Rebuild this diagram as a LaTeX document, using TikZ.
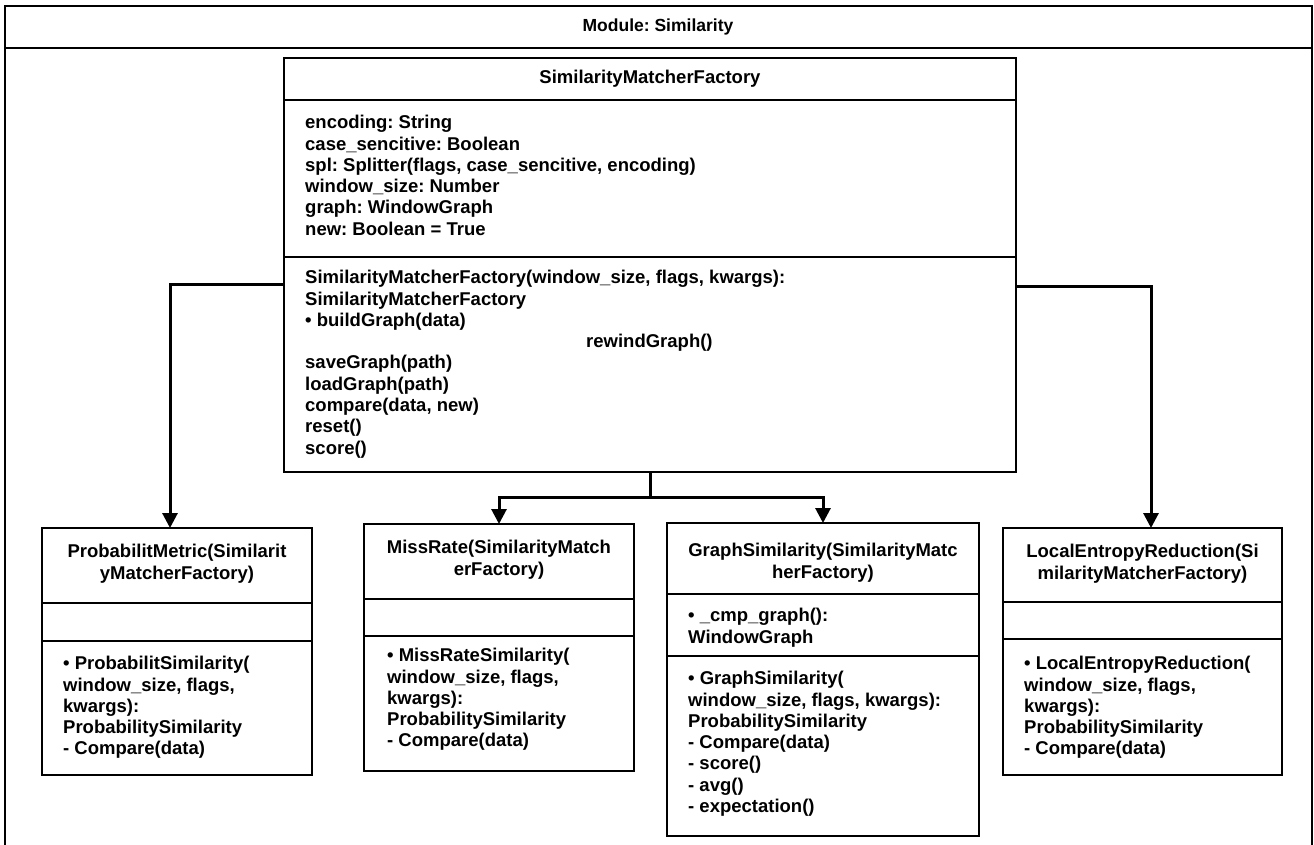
\documentclass[tikz,border=0pt]{standalone}
\usepackage{fontspec}
\setmainfont{Liberation Sans}
\usetikzlibrary{arrows.meta,calc}
\frenchspacing
\begin{document}
\begin{tikzpicture}[x=1pt,y=-1pt,
  box/.style={draw=black,line width=2pt,inner sep=0pt,outer sep=0pt,anchor=north west},
  sepline/.style={draw=black,line width=2pt},
  frameline/.style={draw=black,line width=2pt},
  txt/.style={anchor=north west,inner sep=0pt,align=left,font=\fontsize{18.5}{21.3}\selectfont\bfseries\frenchspacing},
  ttl/.style={anchor=north,inner sep=0pt,align=center,font=\fontsize{18.5}{21.3}\selectfont\bfseries\frenchspacing},
  conn/.style={draw=black,line width=3pt,-{Triangle[width=15pt,length=15pt]}},
  plainconn/.style={draw=black,line width=3pt}
]
\useasboundingbox (0,0) rectangle (1314,845);
% module frame
\draw[frameline] (5,880) -- (5,6) -- (1312,6) -- (1312,880);
\draw[frameline] (5,48) -- (1312,48);
\node[ttl,anchor=center,font=\fontsize{17.5}{20}\selectfont\bfseries\frenchspacing] (modtitle) at (658,27) {Module: Similarity};

% main class
\node[box,minimum width=732pt,minimum height=414pt] (main) at (284,58) {};
\draw[sepline] ($(main.north west)+(0,42)$) -- ($(main.north east)+(0,42)$);
\draw[sepline] ($(main.north west)+(0,199)$) -- ($(main.north east)+(0,199)$);
\node[ttl,anchor=center] (mainname) at ($(main.north)+(0,21)$) {SimilarityMatcherFactory};
\node[txt] (mainattr) at (305,113.6) {\strut encoding: String\\
\strut case\_sencitive: Boolean\\
\strut spl: Splitter(flags, case\_sencitive, encoding)\\
\strut window\_size: Number\\
\strut graph: WindowGraph\\
\strut new: Boolean = True};
\node[txt] (mainmeth) at (305,268.6) {\strut SimilarityMatcherFactory(window\_size, flags, kwargs):\\
\strut SimilarityMatcherFactory\\
\strut • buildGraph(data)\\
\strut\hspace*{281pt}rewindGraph()\\
\strut saveGraph(path)\\
\strut loadGraph(path)\\
\strut compare(data, new)\\
\strut reset()\\
\strut score()};

% ProbabilitMetric
\node[box,minimum width=270pt,minimum height=247pt] (pm) at (42,528) {};
\draw[sepline] ($(pm.north west)+(0,75)$) -- ($(pm.north east)+(0,75)$);
\draw[sepline] ($(pm.north west)+(0,113)$) -- ($(pm.north east)+(0,113)$);
\node[ttl] (pmname) at (177,542.6) {\strut ProbabilitMetric(Similarit\\\strut yMatcherFactory)};
\node[txt] (pmmeth) at (63,654.6) {\strut • ProbabilitSimilarity(\\
\strut window\_size, flags,\\
\strut kwargs):\\
\strut ProbabilitySimilarity\\
\strut - Compare(data)};

% MissRate
\node[box,minimum width=270pt,minimum height=247pt] (mr) at (364,524) {};
\draw[sepline] ($(mr.north west)+(0,75)$) -- ($(mr.north east)+(0,75)$);
\draw[sepline] ($(mr.north west)+(0,112)$) -- ($(mr.north east)+(0,112)$);
\node[ttl] (mrname) at (499,538.6) {\strut MissRate(SimilarityMatch\\\strut erFactory)};
\node[txt] (mrmeth) at (387,646.6) {\strut • MissRateSimilarity(\\
\strut window\_size, flags,\\
\strut kwargs):\\
\strut ProbabilitySimilarity\\
\strut - Compare(data)};

% GraphSimilarity
\node[box,minimum width=312pt,minimum height=313pt] (gs) at (667,523) {};
\draw[sepline] ($(gs.north west)+(0,71)$) -- ($(gs.north east)+(0,71)$);
\draw[sepline] ($(gs.north west)+(0,133)$) -- ($(gs.north east)+(0,133)$);
\node[ttl] (gsname) at (823,541.6) {\strut GraphSimilarity(SimilarityMatc\\\strut herFactory)};
\node[txt] (gsattr) at (688,606.6) {\strut • \_cmp\_graph():\\
\strut WindowGraph};
\node[txt] (gsmeth) at (688,669.6) {\strut • GraphSimilarity(\\
\strut window\_size, flags, kwargs):\\
\strut ProbabilitySimilarity\\
\strut - Compare(data)\\
\strut - score()\\
\strut - avg()\\
\strut - expectation()};

% LocalEntropyReduction
\node[box,minimum width=279pt,minimum height=247pt] (ler) at (1003,528) {};
\draw[sepline] ($(ler.north west)+(0,74)$) -- ($(ler.north east)+(0,74)$);
\draw[sepline] ($(ler.north west)+(0,111)$) -- ($(ler.north east)+(0,111)$);
\node[ttl] (lername) at (1142.5,542.6) {\strut LocalEntropyReduction(Si\\\strut milarityMatcherFactory)};
\node[txt] (lermeth) at (1024,654.6) {\strut • LocalEntropyReduction(\\
\strut window\_size, flags,\\
\strut kwargs):\\
\strut ProbabilitySimilarity\\
\strut - Compare(data)};

% connectors
\draw[conn] ($(main.north west)+(0,226)$) -| ($(pm.north)+(-7,0)$);
\draw[conn] ($(main.north east)+(0,228)$) -| ($(ler.north)+(8.5,0)$);
\coordinate (junc) at ($(main.south)+(0,25)$);
\draw[plainconn] (main.south) -- (junc);
\draw[conn] (junc) -| (mr.north);
\draw[conn] (junc) -| (gs.north);
\end{tikzpicture}
\end{document}
